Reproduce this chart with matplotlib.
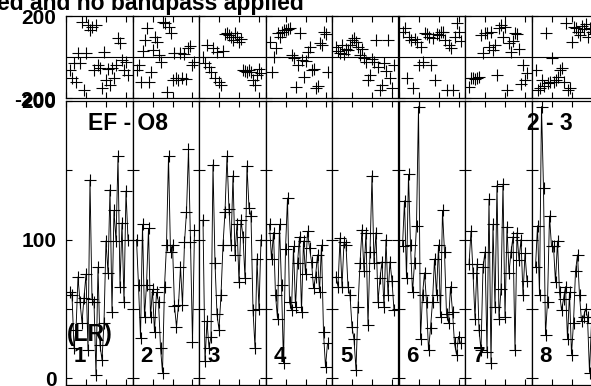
import matplotlib
matplotlib.use('Agg')
import matplotlib.pyplot as plt

plt.rcParams['font.family'] = ['Liberation Sans', 'DejaVu Sans']
plt.rcParams['font.weight'] = 'bold'

# channel numbers inside each IF panel
channels = list(range(2, 32))

# amplitude per IF (bottom panels)
amp1 = [62, 60, 22, 35, 73, 55, 40, 58, 75, 20, 143, 57, 55, 2, 80, 24, 13, 40, 99, 76, 136, 48, 121, 99, 160, 66, 112, 55, 135, 100]
amp2 = [100, 67, 29, 111, 44, 67, 108, 44, 64, 33, 62, 55, 22, 4, 66, 96, 160, 91, 96, 52, 37, 53, 80, 53, 98, 120, 165, 98, 26, 107]
amp3 = [114, 12, 41, 22, 30, 154, 83, 46, 35, 60, 96, 120, 160, 122, 96, 146, 89, 111, 69, 114, 102, 72, 153, 123, 117, 49, 22, 86, 50, 100]
amp4 = [111, 86, 105, 60, 43, 111, 67, 11, 93, 130, 55, 49, 95, 51, 83, 102, 48, 99, 75, 106, 94, 84, 65, 73, 89, 62, 96, 33, 8, 25]
amp5 = [73, 66, 101, 66, 98, 96, 66, 60, 37, 28, 6, 51, 83, 107, 77, 105, 38, 91, 146, 83, 105, 55, 72, 84, 51, 100, 60, 84, 70, 49]
amp6 = [95, 128, 72, 147, 96, 62, 83, 110, 196, 28, 60, 76, 55, 20, 36, 55, 86, 60, 96, 44, 121, 91, 46, 40, 66, 48, 25, 17, 30, 25]
amp7 = [82, 106, 76, 43, 82, 35, 20, 80, 91, 19, 129, 11, 111, 51, 139, 43, 64, 140, 44, 109, 76, 91, 102, 20, 105, 85, 100, 60, 90, 70]
amp8 = [80, 110, 60, 196, 137, 31, 55, 117, 95, 95, 69, 99, 62, 49, 57, 66, 28, 62, 17, 40, 77, 89, 60, 41, 44, 50, 44, 4, 40, 30]

# phase per IF (top panels, degrees)
ph1 = [-63, -102, -30, -122, 20, -29, 171, -161, 20, 156, 132, 146, -63, 156, -40, -54, -151, 24, -112, -60, -137, -54, -100, -39, 93, 68, -15, -63, -25, -90]
ph2 = [-63, -40, -122, 30, 83, 141, -122, -73, 34, 100, 73, 10, -24, 171, 166, -171, 146, 117, -112, 20, -102, -110, 20, -102, 15, -105, 44, 55, -39, -24]
ph3 = [0, -29, 59, -50, -73, 44, -102, 24, -120, -137, 30, 110, 117, 105, 98, 85, 117, 100, 73, 90, -63, -70, -73, -65, -75, -112, -137, -90, -60, -80]
ph4 = [73, -73, 0, 44, 117, 100, 122, 130, 132, 135, 141, 10, -5, -146, -39, 117, -15, -98, -20, 24, 49, -63, -60, -151, -140, 68, 60, 122, 110, -73]
ph5 = [49, 30, 20, 59, 15, 40, 34, 60, 83, 93, 73, 50, 10, 40, -5, -24, -112, -88, -10, -24, 83, -49, -161, -137, -30, -70, 83, -100, -150, -40]
ph6 = [122, 141, -102, 100, 83, -151, 90, 73, -40, 49, -24, 117, 110, 100, -39, 95, -112, 110, 105, 120, 122, 83, -161, 60, 44, -161, 100, 166, 120, 80]
ph7 = [-146, -102, -100, -105, -102, -98, 107, 20, 117, 115, 49, 122, 34, 60, -88, 141, 156, 98, 145, -161, 68, 24, 80, 117, 110, 40, -130, -39, -112, -80]
ph8 = [-63, -161, -150, -112, -140, 117, -127, -122, -5, -122, -110, -98, -63, -54, -120, 166, -161, -151, 73, 146, 140, 122, 107, 150, 135, 160, 100, 140, 120, 110]

amps = [amp1, amp2, amp3, amp4, amp5, amp6, amp7, amp8]
phases = [ph1, ph2, ph3, ph4, ph5, ph6, ph7, ph8]
if_labels = ['1', '2', '3', '4', '5', '6', '7', '8']

amp_ticks = [0, 50, 100, 150, 200]
amp_ticklabels = ['0', '', '100', '', '200']
ph_ticks = [-200, 200]
ph_ticklabels = ['-200', '200']
chan_ticks = [0, 10, 20, 30]

W, H = 591, 386
fig = plt.figure(figsize=(W / 100, H / 100), dpi=100)

def box(left, top, width, height):
    return [left / W, 1 - (top + height) / H, width / W, height / H]

def style(ax):
    for s in ax.spines.values():
        s.set_linewidth(0.9)
    ax.tick_params(direction='in', length=4.5, width=0.8, top=True, right=True,
                   labelsize=15, pad=7)
    ax.set_xlim(0, 33.25)
    ax.set_xticks(chan_ticks)
    ax.set_xticklabels([])

panel_w = 66.5
for k in range(8):
    left = 66 + panel_w * k

    axp = fig.add_axes(box(left, 16, panel_w, 82))
    style(axp)
    axp.axhline(0, color='k', lw=0.8)
    axp.plot(channels, phases[k], '+', color='k', ms=9, mew=0.8)
    axp.set_ylim(-200, 200)
    axp.set_yticks(ph_ticks)

    axa = fig.add_axes(box(left, 101, panel_w, 284))
    style(axa)
    axa.plot(channels, amps[k], '-', color='k', lw=0.65)
    axa.plot(channels, amps[k], '+', color='k', ms=9, mew=0.8)
    axa.set_ylim(-5, 200)
    axa.set_yticks(amp_ticks)

    if k == 0:
        axp.set_yticklabels(ph_ticklabels, fontweight='bold')
        axa.set_yticklabels(amp_ticklabels, fontweight='bold')
    else:
        axp.set_yticklabels([])
        axa.set_yticklabels([])

    fig.text((left + 8) / W, 1 - 357 / H, if_labels[k], ha='left', va='center',
             fontsize=16, fontweight='bold', zorder=10)

fig.text(-3 / W, 1 - 10 / H, 'ed and no bandpass applied', ha='left', va='baseline',
         fontsize=16.5, fontweight='bold')
fig.text(88 / W, 1 - 123 / H, 'EF - O8', ha='left', va='center', fontsize=16.5, fontweight='bold', zorder=10)
fig.text(527 / W, 1 - 123 / H, '2 - 3', ha='left', va='center', fontsize=16.5, fontweight='bold', zorder=10)
fig.text(67 / W, 1 - 335 / H, '(LR)', ha='left', va='center', fontsize=16.5, fontweight='bold', zorder=10)

fig.savefig('out.png', dpi=100)
